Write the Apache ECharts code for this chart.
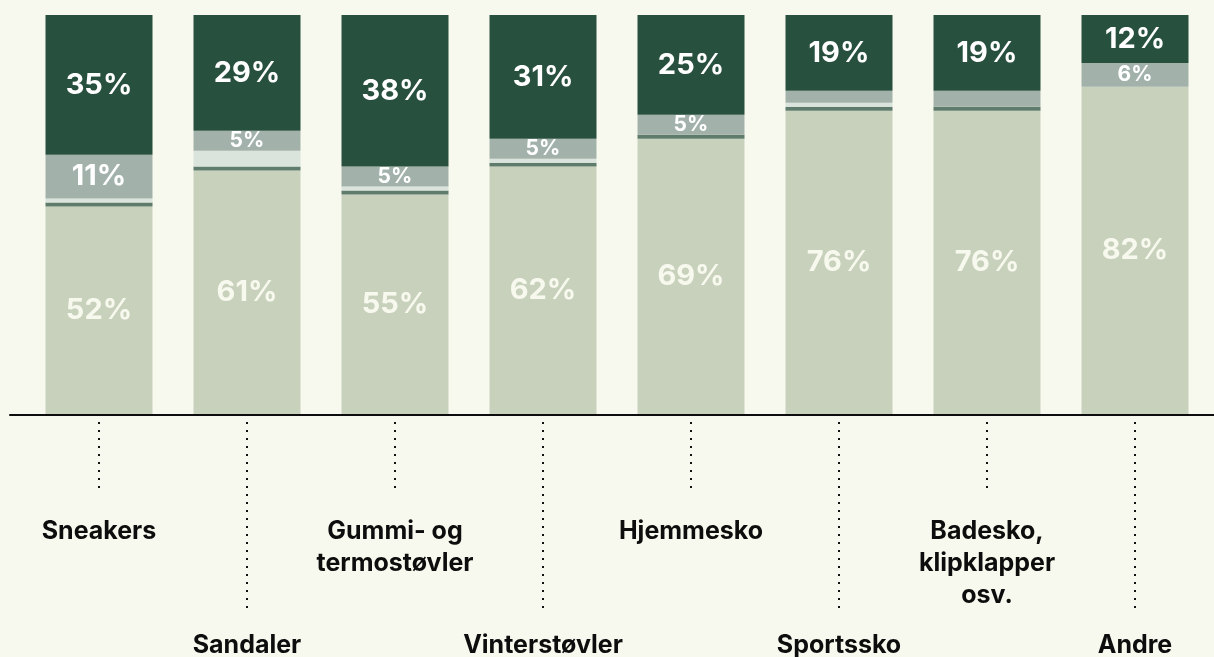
<!DOCTYPE html>
<html>
<head>
<meta charset="utf-8">
<style>
    html, body { margin: 0; padding: 0; background: #f8f9ee; }
    #chart { width: 1214px; height: 657px; }
</style>
<script src="https://cdn.jsdelivr.net/npm/echarts@6/dist/echarts.min.js"></script>
</head>
<body>
<div id="chart"></div>
<script>
// kategorier
var categories = ['Sneakers', 'Sandaler', 'Gummi- og\ntermostøvler', 'Vinterstøvler',
    'Hjemmesko', 'Sportssko', 'Badesko,\nklipklapper\nosv.', 'Andre'];

// andeler i prosent, nederst til øverst
var baseValues  = [52, 61, 55, 62, 69, 76, 76, 82];
var thinDark    = [1, 1, 1, 1, 1, 1, 1, 0];
var thinLight   = [1, 4, 1, 1, 0, 1, 0, 0];
var midValues   = [11, 5, 5, 5, 5, 3, 4, 6];
var topValues   = [35, 29, 38, 31, 25, 19, 19, 12];

var FONT = 'Inter, "Liberation Sans", sans-serif';

function pctLabel(color, minShow) {
    return {
        show: true,
        position: 'inside',
        fontFamily: FONT,
        fontWeight: 'bold',
        color: color,
        formatter: function (p) {
            if (p.value < minShow) return '';
            return p.value >= 10 ? '{big|' + p.value + '%}' : '{small|' + p.value + '%}';
        },
        rich: {
            big: { fontSize: 29, fontWeight: 'bold', fontFamily: FONT, color: color },
            small: { fontSize: 21, fontWeight: 'bold', fontFamily: FONT, color: color }
        }
    };
}

function stackSeries(name, data, color, label) {
    return {
        name: name,
        type: 'bar',
        stack: 'total',
        xAxisIndex: 0,
        yAxisIndex: 0,
        barWidth: 107,
        data: data,
        itemStyle: { color: color },
        label: label || { show: false },
        emphasis: { disabled: true }
    };
}

// dotted leaders + labels, alternating heights
function labelAxis(even, tickLen, margin) {
    var pick = function (idx) { return (idx % 2 === 0) === even; };
    return {
        type: 'category',
        gridIndex: 0,
        data: categories,
        position: 'bottom',
        offset: 8,
        axisLine: { show: false },
        axisTick: {
            show: true,
            alignWithLabel: true,
            interval: pick,
            length: tickLen,
            lineStyle: { color: '#111', width: 2, type: [2, 6] }
        },
        axisLabel: {
            show: true,
            interval: pick,
            margin: margin,
            fontFamily: FONT,
            fontWeight: 'bold',
            fontSize: 25,
            lineHeight: 32,
            color: '#0d0d0d'
        }
    };
}

var option = {
    backgroundColor: '#f8f9ee',
    animation: false,
    grid: [
        { left: 25, right: 5, top: 15, bottom: 243, outerBoundsMode: 'none' },
        { left: 10, right: 0, top: 15, bottom: 242, outerBoundsMode: 'none' }
    ],
    xAxis: [
        {
            type: 'category',
            gridIndex: 0,
            data: categories,
            axisLine: { show: false },
            axisTick: { show: false },
            axisLabel: { show: false }
        },
        labelAxis(true, 72, 93),
        labelAxis(false, 190, 207),
        {
            type: 'value',
            gridIndex: 1,
            min: 0,
            max: 1,
            z: 10,
            axisLine: { show: true, lineStyle: { color: '#0d0d0d', width: 2 } },
            axisTick: { show: false },
            axisLabel: { show: false },
            splitLine: { show: false }
        }
    ],
    yAxis: [
        { type: 'value', gridIndex: 0, min: 0, max: 100, show: false, splitLine: { show: false } },
        { type: 'value', gridIndex: 1, min: 0, max: 1, show: false, splitLine: { show: false } }
    ],
    series: [
        stackSeries('base', baseValues, '#c8d1bc', pctLabel('#f8f9ee', 10)),
        stackSeries('thinDark', thinDark, '#5f7b6c'),
        stackSeries('thinLight', thinLight, '#dae3dc'),
        stackSeries('mid', midValues, '#a2b2aa', pctLabel('#ffffff', 5)),
        stackSeries('top', topValues, '#28503f', pctLabel('#ffffff', 5))
    ]
};

var myChart = echarts.init(document.getElementById('chart'));
myChart.setOption(option);
</script>
</body>
</html>
